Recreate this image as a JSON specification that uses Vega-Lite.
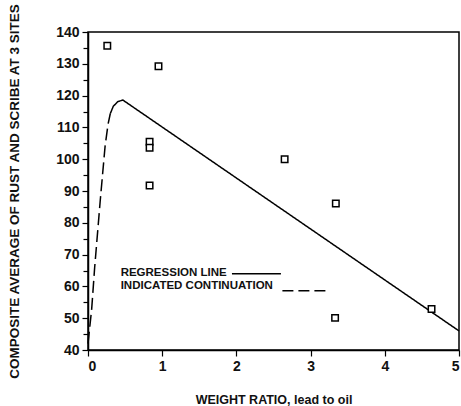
{
  "$schema": "https://vega.github.io/schema/vega-lite/v6.json",
  "autosize": {"type": "none"},
  "padding": {"left": 88, "top": 32, "right": 2, "bottom": 56},
  "width": 371,
  "height": 318,
  "background": "white",
  "config": {
    "view": {"stroke": "black", "strokeWidth": 1.5},
    "font": "Liberation Sans",
    "axis": {
      "labelFont": "Liberation Sans", "labelFontWeight": "bold", "labelFontSize": 14, "labelColor": "#111",
      "titleFont": "Liberation Sans", "titleFontWeight": "bold", "titleColor": "#111",
      "domainColor": "black", "domainWidth": 1.5, "tickColor": "black", "tickWidth": 1.2, "grid": false
    }
  },
  "datasets": {
    "points": [
      {"ratio": 0.26, "value": 135.7},
      {"ratio": 0.95, "value": 129.2},
      {"ratio": 0.83, "value": 105.5},
      {"ratio": 0.83, "value": 103.6},
      {"ratio": 0.83, "value": 91.7},
      {"ratio": 2.65, "value": 100.0},
      {"ratio": 3.34, "value": 86.1},
      {"ratio": 3.33, "value": 50.1},
      {"ratio": 4.63, "value": 52.9}
    ],
    "curves": [
      {"part": "cont", "style": "dashed", "ratio": 0.0, "value": 42},
      {"part": "cont", "style": "dashed", "ratio": 0.05, "value": 53},
      {"part": "cont", "style": "dashed", "ratio": 0.09, "value": 66},
      {"part": "cont", "style": "dashed", "ratio": 0.165, "value": 87},
      {"part": "cont", "style": "dashed", "ratio": 0.23, "value": 104},
      {"part": "cont", "style": "dashed", "ratio": 0.27, "value": 111},
      {"part": "cont", "style": "dashed", "ratio": 0.3, "value": 114.3},
      {"part": "reg", "style": "solid", "ratio": 0.3, "value": 114.3},
      {"part": "reg", "style": "solid", "ratio": 0.34, "value": 116.6},
      {"part": "reg", "style": "solid", "ratio": 0.4, "value": 118.1},
      {"part": "reg", "style": "solid", "ratio": 0.47, "value": 118.6},
      {"part": "reg", "style": "solid", "ratio": 5.0, "value": 46},
      {"part": "legreg", "style": "solid", "ratio": 1.94, "value": 64.0},
      {"part": "legreg", "style": "solid", "ratio": 2.6, "value": 64.0},
      {"part": "legcont", "style": "legdash", "ratio": 2.62, "value": 58.6},
      {"part": "legcont", "style": "legdash", "ratio": 3.26, "value": 58.6}
    ],
    "labels": [
      {"ratio": 0.44, "value": 64.1, "text": "REGRESSION LINE"},
      {"ratio": 0.44, "value": 60.0, "text": "INDICATED CONTINUATION"}
    ]
  },
  "resolve": {"axis": {"y": "independent"}},
  "layer": [
    {
      "data": {"name": "curves"},
      "mark": {"type": "line", "color": "black", "strokeWidth": 1.5},
      "encoding": {
        "x": {"field": "ratio", "type": "quantitative",
              "scale": {"domain": [0, 5], "nice": false, "zero": false},
              "axis": {"values": [0, 0.5, 1, 1.5, 2, 2.5, 3, 3.5, 4, 4.5, 5],
                       "labelExpr": "datum.value % 1 === 0 ? format(datum.value, 'd') : ''",
                       "labelOverlap": false,
                       "title": "WEIGHT RATIO, lead to oil", "titleFontSize": 12.5, "titlePadding": 20, "tickSize": 6, "labelPadding": 3}},
        "y": {"field": "value", "type": "quantitative",
              "scale": {"domain": [40, 140], "nice": false, "zero": false},
              "axis": {"orient": "left", "values": [40, 50, 60, 70, 80, 90, 100, 110, 120, 130, 140],
                       "format": "d", "labelOverlap": false,
                       "title": "COMPOSITE AVERAGE OF RUST AND SCRIBE AT 3 SITES", "titleFontSize": 13.5, "titlePadding": 34, "tickSize": 6, "labelPadding": 3}},
        "detail": {"field": "part"},
        "strokeDash": {"field": "style", "type": "nominal", "legend": null,
                       "scale": {"domain": ["solid", "dashed", "legdash"], "range": [[1, 0], [12, 5], [11, 5]]}},
        "order": {"field": "ratio"}
      }
    },
    {
      "data": {"name": "points"},
      "mark": {"type": "point", "shape": "square", "size": 42, "filled": false, "color": "black", "fill": "white", "fillOpacity": 1, "strokeWidth": 1.5},
      "encoding": {
        "x": {"field": "ratio", "type": "quantitative"},
        "y": {"field": "value", "type": "quantitative",
              "axis": {"orient": "left", "values": [45, 55, 65, 75, 85, 95, 105, 115, 125, 135],
                       "labels": false, "title": null, "domain": false, "tickSize": 5}}
      }
    },
    {
      "data": {"name": "labels"},
      "mark": {"type": "text", "align": "left", "baseline": "middle", "font": "Liberation Sans", "fontWeight": "bold", "fontSize": 11.5, "color": "#111"},
      "encoding": {
        "x": {"field": "ratio", "type": "quantitative"},
        "y": {"field": "value", "type": "quantitative", "axis": null},
        "text": {"field": "text"}
      }
    }
  ]
}
